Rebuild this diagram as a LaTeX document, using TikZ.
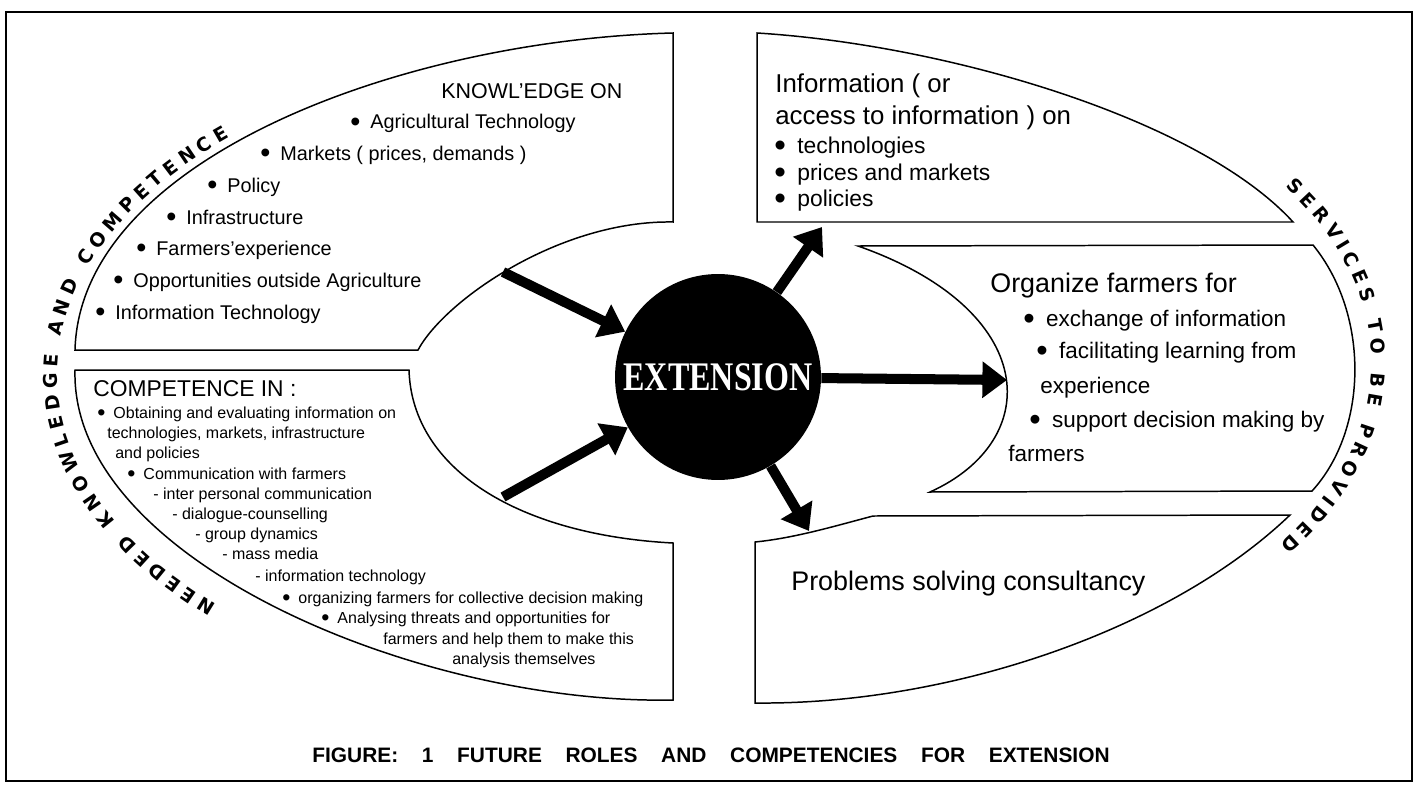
\documentclass[tikz,border=0pt]{standalone}
\usepackage{fontspec}
\setmainfont{Liberation Sans}
\newfontfamily\extfont{Liberation Serif}
\newfontfamily\arcfam{DejaVu Sans}
\usetikzlibrary{arrows.meta}
\usetikzlibrary{decorations.text}
\tikzstyle{every node}=[inner sep=0pt, anchor=base west]
\tikzstyle{region}=[draw, line width=.85pt, fill=white]
\tikzstyle{bigarrow}=[line width=5.7pt, -{Triangle[length=14pt,width=20pt]}]
\tikzstyle{hub}=[circle, fill=black, anchor=center, minimum size=4.12cm, text=white]
\tikzstyle{knitem}=[font=\fontsize{11.3pt}{13pt}\selectfont]
\tikzstyle{cpitem}=[font=\fontsize{9.1pt}{11pt}\selectfont]
\newcommand{\setsz}[1]{\fontsize{#1pt}{#1pt}\selectfont}
\newcommand{\itm}{\raisebox{-.14em}{\scalebox{1.45}{\textbullet}}\hspace{.5em}}
\newcommand{\arcfont}{\arcfam\fontsize{10.8pt}{12pt}\selectfont\bfseries}

\begin{document}
\begin{tikzpicture}[x=0.02cm, y=-0.02cm]
  \useasboundingbox (0,0) rectangle (1415,784);
  \draw[line width=1.1pt] (6,12) rectangle (1412,781);

  \draw[region] (75,350) -- (418,350) .. controls (445,300) and (560,220) .. (673,222)
    -- (673,33) .. controls (400,40) and (80,160) .. (75,350) -- cycle;
  \draw[region] (75,370) -- (409,370) .. controls (412,470) and (520,535) .. (673,543)
    -- (673,700) .. controls (420,705) and (70,560) .. (75,370) -- cycle;
  \draw[region] (757,33) -- (757,222) -- (1293,222) .. controls (1200,120) and (950,45) .. (757,33) -- cycle;
  \draw[region] (858,246) -- (1313,245) .. controls (1370,315) and (1368,430) .. (1312,491)
    -- (930,492) .. controls (1045,440) and (1040,310) .. (858,246) -- cycle;
  \draw[region] (755,703) -- (755,542) .. controls (795,538) and (835,526) .. (873,516)
    -- (1290,515) .. controls (1170,630) and (950,705) .. (755,703) -- cycle;

  \path[decorate, decoration={text along path, text align={fit to path},
      text={|\arcfont|NEEDED KNOWLEDGE AND COMPETENCE}}]
    plot[domain=0:92, samples=60, variable=\u] ({600-543*cos(45-\u)},{375+325*sin(45-\u)});
  \path[decorate, decoration={text along path, text align={fit to path},
      text={|\arcfont|SERVICES TO BE PROVIDED}}]
    plot[domain=-32:33, samples=50, variable=\u] ({800+572*cos(\u)},{363+333*sin(\u)});

  \node (kn0) at (441,98) {\setsz{12.2}KNOWL'EDGE ON};
  \node[knitem] (kn1) at (350,129) {\itm Agricultural Technology};
  \node[knitem] (kn2) at (260,160) {\itm Markets ( prices, demands )};
  \node[knitem] (kn3) at (207,192) {\itm Policy};
  \node[knitem] (kn4) at (166,224) {\itm Infrastructure};
  \node[knitem] (kn5) at (136,255) {\itm Farmers'experience};
  \node[knitem] (kn6) at (113,287) {\itm Opportunities outside Agriculture};
  \node[knitem] (kn7) at (95,319) {\itm Information Technology};

  \node (cp0) at (93,396) {\setsz{13}COMPETENCE IN :};
  \node[cpitem] (cp1) at (97,418) {\itm Obtaining and evaluating information on};
  \node[cpitem] (cp2) at (107,438) {technologies, markets, infrastructure};
  \node[cpitem] (cp3) at (115,458) {and policies};
  \node[cpitem] (cp4) at (127,479) {\itm Communication with farmers};
  \node[cpitem] (cp5) at (153,499) {- inter personal communication};
  \node[cpitem] (cp6) at (172,519) {- dialogue-counselling};
  \node[cpitem] (cp7) at (195,539) {- group dynamics};
  \node[cpitem] (cp8) at (222,559) {- mass media};
  \node[cpitem] (cp9) at (255,581) {- information technology};
  \node[cpitem] (cp10) at (282,603) {\itm organizing farmers for collective decision making};
  \node[cpitem] (cp11) at (321,623) {\itm Analysing threats and opportunities for};
  \node[cpitem] (cp12) at (383,644) {farmers and help them to make this};
  \node[cpitem] (cp13) at (452,664) {analysis themselves};

  \node (in0) at (775,92) {\setsz{14.7}Information ( or};
  \node (in1) at (775,124) {\setsz{14.7}access to information ) on};
  \node (in2) at (774,153) {\setsz{13}\itm technologies};
  \node (in3) at (774,180) {\setsz{13}\itm prices and markets};
  \node (in4) at (774,206) {\setsz{13}\itm policies};

  \node (or0) at (990,292) {\setsz{15.3}Organize farmers for};
  \node (or1) at (1023,326) {\setsz{12.8}\itm exchange of information};
  \node (or2) at (1036,358) {\setsz{12.8}\itm facilitating learning from};
  \node (or3) at (1040,393) {\setsz{12.8}experience};
  \node (or4) at (1029,427) {\setsz{12.8}\itm support decision making by};
  \node (or5) at (1008,461) {\setsz{12.8}farmers};

  \node (prb0) at (791,590) {\setsz{15.3}Problems solving consultancy};

  \coordinate (kn) at (503,272);
  \coordinate (cp) at (503,497);
  \coordinate (inf) at (822,227);
  \coordinate (org) at (1007,380);
  \coordinate (prb) at (809,531);
  \node[hub] (ext) at (718,377) {\extfont\bfseries\setsz{23.1}\scalebox{0.79}[1]{EXTENSION}};
  \draw[bigarrow] (kn) -- (ext);
  \draw[bigarrow] (cp) -- (ext);
  \draw[bigarrow] (ext) -- (inf);
  \draw[bigarrow] (ext) -- (org);
  \draw[bigarrow] (ext) -- (prb);

  \node (title) at (312,762) {\bfseries\setsz{11.9}FIGURE:\hspace{1.13em}1\hspace{1.13em}FUTURE\hspace{1.13em}ROLES\hspace{1.13em}AND\hspace{1.13em}COMPETENCIES\hspace{1.13em}FOR\hspace{1.13em}EXTENSION};
\end{tikzpicture}
\end{document}
